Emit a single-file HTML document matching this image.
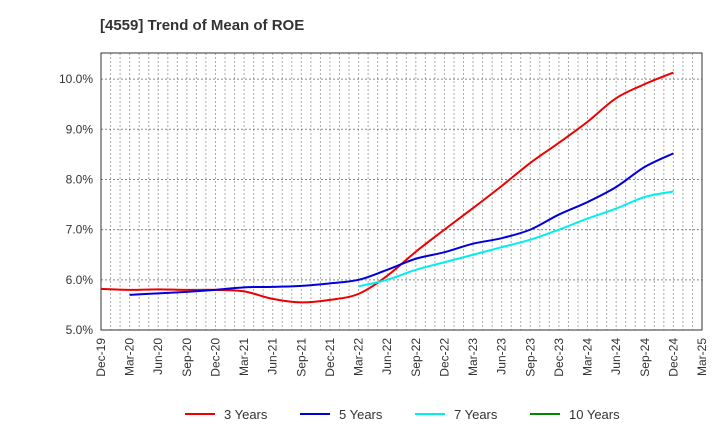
<!DOCTYPE html>
<html><head><meta charset="utf-8"><style>
body{margin:0;background:#fff;font-family:"Liberation Sans",sans-serif}
svg text{font-family:"Liberation Sans",sans-serif;fill:#333}
</style></head><body>
<svg width="720" height="440">
<text x="100" y="30" font-size="15" font-weight="bold">[4559]  Trend of Mean of ROE</text>
<g id="grid"></g><g id="axes"></g><g id="series"></g><g id="legend"></g>
</svg>
<script>
const xLabels=["Dec-19","Mar-20","Jun-20","Sep-20","Dec-20","Mar-21","Jun-21","Sep-21","Dec-21","Mar-22","Jun-22","Sep-22","Dec-22","Mar-23","Jun-23","Sep-23","Dec-23","Mar-24","Jun-24","Sep-24","Dec-24","Mar-25"];
const yTicks=[5,6,7,8,9,10];
const s3=[5.82,5.80,5.81,5.80,5.80,5.77,5.62,5.55,5.60,5.72,6.08,6.56,7.00,7.43,7.87,8.33,8.73,9.15,9.62,9.90,10.13];
const s5=[null,5.70,5.73,5.76,5.80,5.85,5.86,5.88,5.93,6.00,6.20,6.42,6.55,6.72,6.83,7.00,7.30,7.55,7.85,8.25,8.52];
const s7=[null,null,null,null,null,null,null,null,null,5.87,6.00,6.20,6.35,6.50,6.65,6.80,7.00,7.22,7.42,7.65,7.76];
const s10=[];
const L=101,R=702,T=53,B=330,ymin=5,ymax=10.52;
const NS="http://www.w3.org/2000/svg";
const X=i=>L+i*(R-L)/(xLabels.length-1);
const Y=v=>B-(v-ymin)/(ymax-ymin)*(B-T);
function mk(tag,attrs,parent){const e=document.createElementNS(NS,tag);for(const k in attrs)e.setAttribute(k,attrs[k]);parent.appendChild(e);return e;}
const grid=document.getElementById('grid'),axes=document.getElementById('axes'),ser=document.getElementById('series'),leg=document.getElementById('legend');
for(let m=1;m<(xLabels.length-1)*3;m++){const x=L+m*(R-L)/((xLabels.length-1)*3);
const l=mk('line',{x1:x,x2:x,y1:T,y2:B,stroke:'#aaa','stroke-dasharray':'2,2','stroke-width':1},grid);

}
yTicks.forEach(v=>{const y=Y(v);
if(v>ymin){const l=mk('line',{x1:L,x2:R,y1:y,y2:y,stroke:'#888','stroke-dasharray':'2,2','stroke-width':1},grid);

}
const t=mk('text',{x:L-8,y:y+4,'text-anchor':'end','font-size':12},axes);t.textContent=v.toFixed(1)+'%';

});
xLabels.forEach((s,i)=>{const x=X(i);const t=mk('text',{transform:`translate(${x+4},${B+8}) rotate(-90)`,'text-anchor':'end','font-size':12},axes);t.textContent=s;

});
const fr=mk('rect',{x:L,y:T,width:R-L,height:B-T,fill:'none',stroke:'#333','stroke-width':1},axes);


function path(arr){const p=[];arr.forEach((v,i)=>{if(v!=null)p.push([X(i),Y(v)]);});
if(p.length<2)return '';let d=`M${p[0][0]},${p[0][1]}`;
for(let i=0;i<p.length-1;i++){const p0=p[i-1]||p[i],p1=p[i],p2=p[i+1],p3=p[i+2]||p2;
d+=` C${p1[0]+(p2[0]-p0[0])/6},${p1[1]+(p2[1]-p0[1])/6} ${p2[0]-(p3[0]-p1[0])/6},${p2[1]-(p3[1]-p1[1])/6} ${p2[0]},${p2[1]}`;}return d;}
const series=[[s3,'#ee0000','3 Years'],[s5,'#0000dd','5 Years'],[s7,'#00eeee','7 Years'],[s10,'#008800','10 Years']];
series.forEach(([a,c,n],k)=>{const d=path(a);if(d){const e=mk('path',{d:d,fill:'none',stroke:c,'stroke-width':2},ser);

}
const lx=185+k*115;const g=mk('g',{},leg);


mk('line',{x1:lx,x2:lx+30,y1:414,y2:414,stroke:c,'stroke-width':2},g);
const t=mk('text',{x:lx+39,y:419,'font-size':13},g);t.textContent=n;});
</script>
</body></html>
